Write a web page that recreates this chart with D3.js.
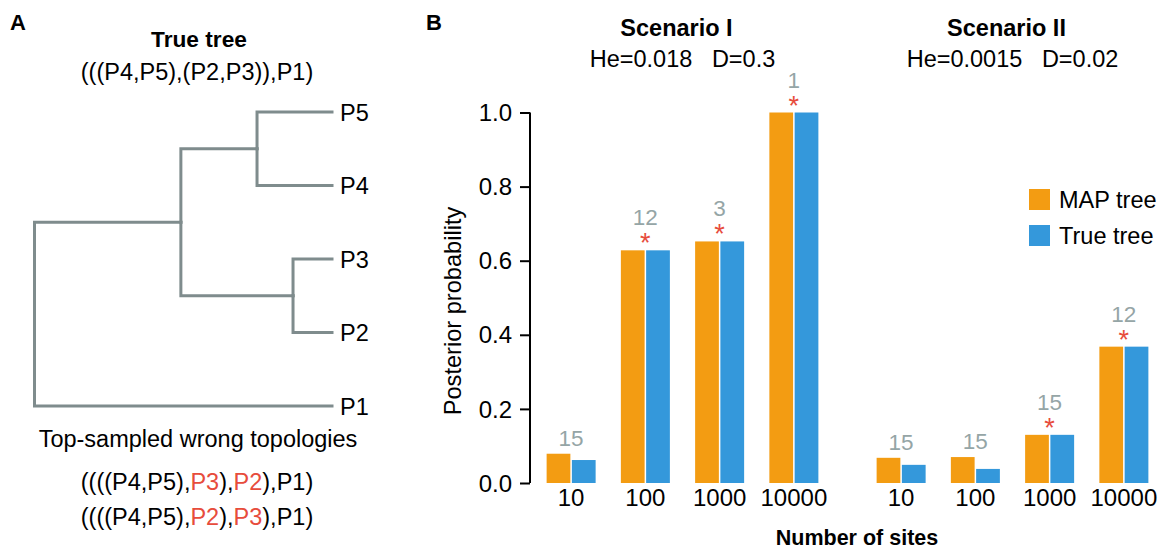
<!DOCTYPE html>
<html>
<head>
<meta charset="utf-8">
<script src="https://cdn.jsdelivr.net/npm/d3@7"></script>
<style>
  body { margin: 0; background: #fff; }
  svg { display: block; font-family: 'Liberation Sans', Arial, Helvetica, sans-serif; }
</style>
</head>
<body>
<svg id="chart" width="1162" height="549"></svg>
<script>
// ---- data ----
const sites = ['10', '100', '1000', '10000'];
const scenarios = ['Scenario I', 'Scenario II'];
const scenarioParams = ['He=0.018   D=0.3', 'He=0.0015   D=0.02'];
const series = ['MAP tree', 'True tree'];
const mapTreeI = [0.079, 0.628, 0.652, 1.0];
const trueTreeI = [0.062, 0.628, 0.652, 1.0];
const mapTreeII = [0.068, 0.070, 0.130, 0.368];
const trueTreeII = [0.049, 0.038, 0.130, 0.368];
const rankI = [15, 12, 3, 1];
const rankII = [15, 15, 15, 12];
const yTicks = [0, 0.2, 0.4, 0.6, 0.8, 1.0];

// true tree, node height measured from the root (leaves at 1)
const trueTree = {
  h: 0,
  children: [
    {
      h: 0.492,
      children: [
        { h: 0.748, children: [{ name: 'P5', h: 1 }, { name: 'P4', h: 1 }] },
        { h: 0.869, children: [{ name: 'P3', h: 1 }, { name: 'P2', h: 1 }] },
      ],
    },
    { name: 'P1', h: 1 },
  ],
};
const leafOrder = ['P5', 'P4', 'P3', 'P2', 'P1'];
const wrongTopologies = [
  [['((((P4,P5),', false], ['P3', true], ['),', false], ['P2', true], ['),P1)', false]],
  [['((((P4,P5),', false], ['P2', true], ['),', false], ['P3', true], ['),P1)', false]],
];

const colors = { 'MAP tree': '#F39C12', 'True tree': '#3498DB' };
const treeGray = '#7F8C8D';
const labelGray = '#95A5A6';
const red = '#E74C3C';
const fs = '23.5px';

const svg = d3.select('#chart');

// ---- panel A: tree ----
svg.append('text').attr('x', 10).attr('y', 30)
  .style('font-size', '22px').style('font-weight', 'bold').text('A');
svg.append('text').attr('x', 199).attr('y', 47).attr('text-anchor', 'middle')
  .style('font-size', '22.7px').style('font-weight', 'bold').text('True tree');
svg.append('text').attr('x', 197).attr('y', 80).attr('text-anchor', 'middle')
  .style('font-size', fs).text('(((P4,P5),(P2,P3)),P1)');

const tx = d3.scaleLinear().domain([0, 1]).range([34.5, 332]);
const ty = d3.scalePoint().domain(leafOrder).range([112, 406]);
const root = d3.hierarchy(trueTree);
root.eachAfter((d) => {
  d.py = d.children ? d3.mean(d.children, (c) => c.py) : ty(d.data.name);
  d.px = tx(d.data.h);
});
svg.append('g')
  .selectAll('path')
  .data(root.links())
  .join('path')
  .attr('d', (l) => `M${l.source.px},${l.source.py}V${l.target.py}H${l.target.px}`)
  .attr('fill', 'none')
  .attr('stroke', treeGray)
  .attr('stroke-width', 3)
  .attr('stroke-linecap', 'square');
svg.append('g')
  .selectAll('text')
  .data(root.leaves())
  .join('text')
  .attr('x', (d) => d.px + 8)
  .attr('y', (d) => d.py + 8.5)
  .style('font-size', fs)
  .text((d) => d.data.name);

svg.append('text').attr('x', 198).attr('y', 447).attr('text-anchor', 'middle')
  .style('font-size', fs).text('Top-sampled wrong topologies');
wrongTopologies.forEach((parts, i) => {
  const t = svg.append('text').attr('x', 197).attr('y', 490 + i * 35)
    .attr('text-anchor', 'middle').style('font-size', fs);
  parts.forEach(([s, hl]) => {
    t.append('tspan').attr('fill', hl ? red : '#000').text(s);
  });
});

// ---- panel B: bars ----
svg.append('text').attr('x', 426).attr('y', 30)
  .style('font-size', '22px').style('font-weight', 'bold').text('B');

const y = d3.scaleLinear().domain([0, 1]).range([483, 112.5]);
const xScen = d3.scaleBand().domain(scenarios).range([534, 1161]).paddingInner(0.1);
const xSite = d3.scaleBand().domain(sites).range([0, xScen.bandwidth()])
  .paddingInner(0.34).paddingOuter(0.17);
const xSer = d3.scaleBand().domain(series).range([0, xSite.bandwidth()]).paddingInner(0.06);

const yAxis = svg.append('g')
  .attr('transform', 'translate(530,0)')
  .call(d3.axisLeft(y).tickValues(yTicks).tickFormat(d3.format('.1f')).tickSize(10).tickPadding(8));
yAxis.select('.domain').attr('stroke-width', 2).attr('d', `M-0,${y(1)}V${y(0)}`);
yAxis.selectAll('.tick line').attr('stroke-width', 2);
yAxis.selectAll('.tick text').style('font-size', '24px').style('font-family', 'inherit')
  .attr('dy', '0.34em');

svg.append('text')
  .attr('transform', 'translate(461,311) rotate(-90)')
  .attr('text-anchor', 'middle')
  .style('font-size', '23.6px')
  .text('Posterior probability');

const scenData = [
  { name: scenarios[0], params: scenarioParams[0], map: mapTreeI, tru: trueTreeI, rank: rankI },
  { name: scenarios[1], params: scenarioParams[1], map: mapTreeII, tru: trueTreeII, rank: rankII },
];

scenData.forEach((sc) => {
  const g = svg.append('g').attr('transform', `translate(${xScen(sc.name)},0)`);
  const mid = xScen.bandwidth() / 2;
  g.append('text').attr('x', mid - 6).attr('y', 36).attr('text-anchor', 'middle')
    .style('font-size', fs).style('font-weight', 'bold').text(sc.name);
  g.append('text').attr('x', mid).attr('y', 67).attr('text-anchor', 'middle')
    .style('font-size', fs).style('white-space', 'pre').attr('xml:space', 'preserve')
    .text(sc.params);

  const rows = sites.map((s, i) => ({
    site: s,
    vals: [sc.map[i], sc.tru[i]],
    rank: sc.rank[i],
    star: sc.map[i] === sc.tru[i],
  }));

  const grp = g.selectAll('.site')
    .data(rows)
    .join('g')
    .attr('transform', (d) => `translate(${xSite(d.site)},0)`);
  grp.selectAll('rect')
    .data((d) => d.vals.map((v, k) => ({ key: series[k], v })))
    .join('rect')
    .attr('x', (d) => xSer(d.key))
    .attr('width', xSer.bandwidth())
    .attr('y', (d) => y(d.v))
    .attr('height', (d) => y(0) - y(d.v))
    .attr('fill', (d) => colors[d.key]);

  const cx = xSite.bandwidth() / 2;
  grp.filter((d) => d.star)
    .append('text')
    .attr('x', cx)
    .attr('y', (d) => y(d3.max(d.vals)) + 2)
    .attr('text-anchor', 'middle')
    .attr('fill', red)
    .style('font-size', '27px')
    .text('*');
  grp.append('text')
    .attr('x', cx)
    .attr('y', (d) => y(d3.max(d.vals)) - (d.star ? 25 : 8))
    .attr('text-anchor', 'middle')
    .attr('fill', labelGray)
    .style('font-size', '22.5px')
    .text((d) => d.rank);
  grp.append('text')
    .attr('x', cx)
    .attr('y', 506)
    .attr('text-anchor', 'middle')
    .style('font-size', '24px')
    .text((d) => d.site);
});

svg.append('text').attr('x', 857).attr('y', 545).attr('text-anchor', 'middle')
  .style('font-size', '21.5px').style('font-weight', 'bold').text('Number of sites');

// legend
const legend = svg.append('g')
  .selectAll('g')
  .data(series)
  .join('g')
  .attr('transform', (d, i) => `translate(1029,${189 + i * 36})`);
legend.append('rect').attr('width', 21).attr('height', 21).attr('fill', (d) => colors[d]);
legend.append('text').attr('x', 30).attr('y', 19).style('font-size', fs).text((d) => d);
</script>
</body>
</html>
